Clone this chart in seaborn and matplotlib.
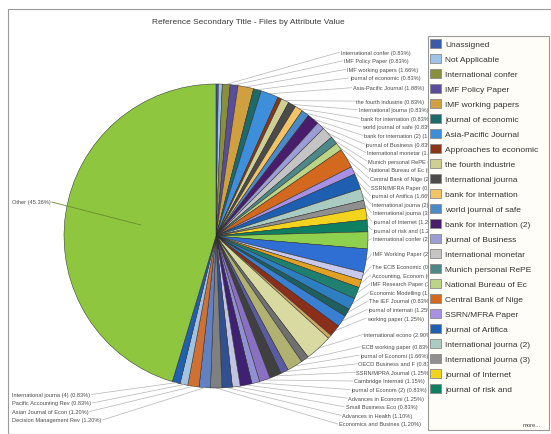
import numpy as np
import matplotlib
matplotlib.use("Agg")
import matplotlib.pyplot as plt
from matplotlib.patches import Patch, Rectangle
import seaborn as sns

# ---------------- data ----------------
title = "Reference Secondary Title - Files by Attribute Value"

names = [
    "Unassigned", "Not Applicable", "International confer", "IMF Policy Paper",
    "IMF working papers", "journal of economic", "Asia-Pacific Journal",
    "Approaches to economic", "the fourth industrie", "International journa",
    "bank for internation", "world journal of safe", "bank for internation (2)",
    "journal of Business", "International monetar", "Munich personal RePE",
    "National Bureau of Ec", "Central Bank of Nige", "SSRN/MFRA Paper",
    "journal of Artifica", "International journa (2)", "International journa (3)",
    "journal of Internet", "journal of risk and",
    "International confer (2)", "IMF Working Paper", "The ECB Economic",
    "Accounting, Econom", "IMF Research Paper", "Economic Modelling",
    "The IEF Journal", "journal of internati", "working paper",
    "journal of internati (2)", "international econo", "ECB working paper",
    "journal of Economi", "OECD Business and F", "SSRN/MPRA Journal",
    "Cambridge Internati", "journal of Econom (2)", "Advances in Economi",
    "Small Business Eco", "Advances in Health",
    "Economics and Busines", "Decision Management Rev", "Asian Journal of Econ",
    "Pacific Accounting Rev", "International journa (4)",
    "Other",
]
values = [
    0.25, 0.41, 0.83, 0.83, 1.66, 0.83, 1.88, 0.41, 0.83, 0.83,
    0.83, 0.83, 1.25, 0.83, 1.25, 0.83, 0.83, 2.08, 0.83, 1.66,
    1.25, 0.83, 1.25, 1.25,
    1.80, 2.49, 0.83, 0.83, 1.25, 1.25, 0.83, 1.25, 1.25, 0.41,
    2.90, 0.83, 1.66, 0.83, 1.25, 1.15, 0.83, 1.25, 0.83, 1.10,
    1.20, 1.20, 1.20, 0.83, 0.83,
    45.36,
]
legend_count = 24

colors = [
    "#3a5ba8", "#9fc4ea", "#8a8f3c", "#5a4e9c", "#d0a040", "#1d6a6a",
    "#3d8fdc", "#8a3518", "#cfcf94", "#4b4b4b", "#f2c466", "#4a8ac6",
    "#4a1d6c", "#9c9cd6", "#c4c4c4", "#4e8888", "#bcd486", "#d3691f",
    "#a891e4", "#1e5fb2", "#a9cbc2", "#8f8f8f", "#f2d31f", "#0f7f62",
    "#8fd14f", "#2f6fd4", "#c9c9ee", "#e0a125", "#1f7f70", "#2d7fc2",
    "#1f5f5f", "#3a80d2", "#8b2f1a", "#d2a462", "#d9d9a2", "#707070",
    "#b1b172", "#5b5ba2", "#404040", "#8a70c2", "#9191d2", "#402070",
    "#c2c2e2", "#305092", "#808080", "#6181c2", "#d07032", "#a2c2e2",
    "#1f60b2",
    "#8ec63f",
]

# ---------------- figure ----------------
sns.set_theme(style="white")
plt.rcParams["font.family"] = ["Liberation Sans", "DejaVu Sans"]

W, H = 551, 435
fig = plt.figure(figsize=(W / 100, H / 100), dpi=100)
fig.patch.set_facecolor("white")
ax = fig.add_axes([0, 0, 1, 1])

cx, cy_pix, R = 216, 237, 152
cy = H - cy_pix

wedges, _ = ax.pie(values, colors=colors, startangle=90, counterclock=False,
                   center=(cx, cy), radius=R, normalize=True,
                   wedgeprops=dict(edgecolor="#2a2a2a", linewidth=0.35))
for w in wedges:
    w.set_zorder(3)
ax.set_xlim(0, W)
ax.set_ylim(0, H)
ax.set_aspect("equal", adjustable="box")
ax.axis("off")

# outer frame
fig.patches.append(Rectangle((8 / W, 0.5 / H), (W - 8.5) / W, (H - 10 - 0.5) / H,
                             transform=fig.transFigure, fill=False,
                             edgecolor="#9a9a9a", linewidth=0.8, zorder=0))

ax.text(248, H - 22, title, ha="center", va="center", fontsize=6.0,
        color="#3a3a3a", zorder=10)

# mid angles (clockwise from top, degrees)
vals = np.array(values, dtype=float)
fr = vals / vals.sum()
cum = np.cumsum(fr) - fr / 2
mid = cum * 360.0

label_fs = 4.1
text_col = "#4a4a4a"
line_col = "#b4b4b4"

# ---- right column labels ----
right = [i for i in range(len(values) - 1) if values[i] >= 0.5 and mid[i] < 180]
ys = [45 + 380 * mid[i] / 180 for i in right]
gap = 8.6
for k in range(1, len(ys)):
    ys[k] = max(ys[k], ys[k - 1] + gap)
ys[-1] = min(ys[-1], 425)
for k in range(len(ys) - 2, -1, -1):
    ys[k] = min(ys[k], ys[k + 1] - gap)
for i, yp in zip(right, ys):
    th = np.radians(mid[i])
    dy = yp - cy_pix
    xs = cx + np.sqrt(max(0.0, 157 ** 2 - 0.27 * dy ** 2))
    ex, ey = cx + R * np.sin(th), cy + R * np.cos(th)
    ax.plot([ex, xs - 1], [ey, H - yp], color=line_col, lw=0.5, zorder=1)
    ax.text(xs, H - yp, f"{names[i]} ({values[i]:.2f}%)", ha="left", va="center",
            fontsize=label_fs, color=text_col, zorder=2)

# ---- left bottom labels ----
left = [i for i in range(len(values) - 1) if values[i] >= 0.5 and mid[i] >= 180]
left_texts = []
for k, i in enumerate(left):
    yp = 421 - 8.5 * k
    t = ax.text(12, H - yp, f"{names[i]} ({values[i]:.2f}%)", ha="left",
                va="center", fontsize=label_fs, color=text_col, zorder=2)
    left_texts.append((i, t, yp))

oth = len(values) - 1
t_other = ax.text(12, H - 203, f"{names[oth]} ({values[oth]:.2f}%)", ha="left",
                  va="center", fontsize=label_fs, color=text_col, zorder=2)

fig.canvas.draw()
renderer = fig.canvas.get_renderer()
inv = ax.transData.inverted()
for i, t, yp in left_texts:
    bb = t.get_window_extent(renderer)
    x_end = inv.transform((bb.x1, bb.y0))[0]
    th = np.radians(mid[i])
    ex, ey = cx + R * np.sin(th), cy + R * np.cos(th)
    ax.plot([x_end + 1, ex], [H - yp, ey], color=line_col, lw=0.5, zorder=4)

bb = t_other.get_window_extent(renderer)
x_end = inv.transform((bb.x1, bb.y0))[0]
th = np.radians(mid[oth])
ex, ey = cx + 0.5 * R * np.sin(th), cy + 0.5 * R * np.cos(th)
ax.plot([x_end + 1, ex], [H - 203, ey], color="#6a8a30", lw=0.6, zorder=4)

# ---- legend ----
lx0, ly0, lx1, ly1 = 428, 37, 549, 431
fig.patches.append(Rectangle((lx0 / W, 1 - ly1 / H), (lx1 - lx0) / W, (ly1 - ly0) / H,
                             transform=fig.transFigure, facecolor="#fffdf7",
                             edgecolor="#9a9a9a", linewidth=0.8, zorder=5))
handles = [Patch(facecolor=colors[i], edgecolor="#8a8a8a", linewidth=0.6)
           for i in range(legend_count)]
leg = fig.legend(handles, names[:legend_count], loc="upper left",
                 bbox_to_anchor=(lx0 / W, 1 - ly0 / H), bbox_transform=fig.transFigure,
                 fontsize=6, frameon=False, handlelength=1.3, handleheight=1.3,
                 labelspacing=0.68, handletextpad=0.5, borderpad=0.3,
                 borderaxespad=0)
for txt in leg.get_texts():
    txt.set_color("#333333")
leg.set_zorder(6)
fig.text(541 / W, 1 - 426 / H, "more...", ha="right", va="center", fontsize=4.2,
         color="#444444", zorder=7)

fig.savefig("out.png", dpi=100)
